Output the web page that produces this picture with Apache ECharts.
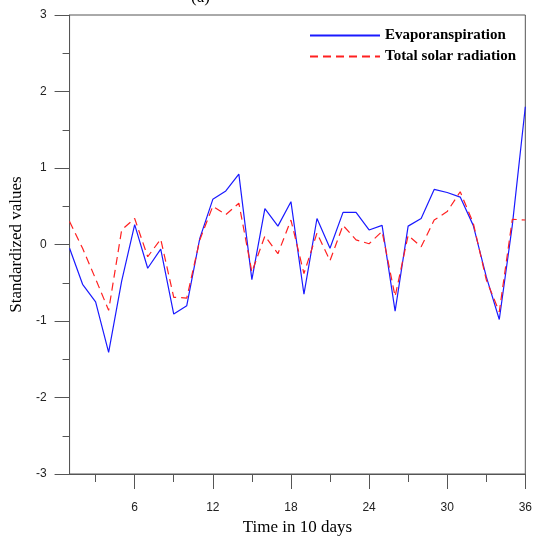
<!DOCTYPE html>
<html>
<head>
<meta charset="utf-8">
<script src="https://cdn.jsdelivr.net/npm/echarts@6/dist/echarts.min.js"></script>
<style>html,body{margin:0;padding:0;background:#fff;overflow:hidden}#c{width:535px;height:541px}</style>
</head>
<body>
<div id="c"></div>
<script>
var days = [1,2,3,4,5,6,7,8,9,10,11,12,13,14,15,16,17,18,19,20,21,22,23,24,25,26,27,28,29,30,31,32,33,34,35,36];
var evapotranspiration = [-0.05,-0.52,-0.75,-1.41,-0.48,0.26,-0.31,-0.06,-0.91,-0.80,0.08,0.59,0.70,0.92,-0.46,0.47,0.24,0.56,-0.65,0.34,-0.05,0.42,0.42,0.19,0.25,-0.87,0.24,0.34,0.72,0.68,0.62,0.25,-0.42,-0.98,0.25,1.80];
var solarRadiation = [0.30,-0.05,-0.45,-0.86,0.19,0.34,-0.16,0.07,-0.69,-0.70,0.06,0.50,0.39,0.54,-0.36,0.11,-0.12,0.32,-0.38,0.15,-0.21,0.25,0.06,0.01,0.17,-0.68,0.12,-0.03,0.32,0.43,0.69,0.28,-0.46,-0.88,0.33,0.32];
var xMajorTicks = [6,12,18,24,30,36];
var xMinorTicks = [3,9,15,21,27,33];
var seriesNames = ['Evaporanspiration','Total solar radiation'];

function pairs(ys){ return days.map(function(d,i){ return [d, ys[i]]; }); }

var axisColor = '#555';
var chart = echarts.init(document.getElementById('c'));
chart.setOption({
  animation: false,
  backgroundColor: '#fff',
  title: {
    text: '(a)',
    left: 186, top: -16,
    textStyle: {fontFamily: 'Liberation Serif', fontSize: 17, fontWeight: 'normal', color: '#000'}
  },
  grid: {left: 69, right: 6, top: 15, bottom: 67, show: true, borderColor: axisColor, borderWidth: 1, backgroundColor: 'transparent'},
  legend: {
    orient: 'vertical', left: 304, top: 23, itemWidth: 70, itemHeight: 14, itemGap: 6,
    itemStyle: {opacity: 0},
    textStyle: {fontFamily: 'Liberation Serif', fontSize: 15, fontWeight: 'bold', color: '#000'},
    data: seriesNames
  },
  xAxis: [{
    type: 'value', min: 1, max: 36,
    name: 'Time in 10 days', nameLocation: 'middle', nameGap: 42,
    nameTextStyle: {fontFamily: 'Liberation Serif', fontSize: 17, color: '#000'},
    axisLine: {show: true, onZero: false, lineStyle: {color: axisColor, width: 1}},
    axisTick: {show: true, inside: false, length: 15, customValues: xMajorTicks, lineStyle: {color: axisColor}},
    axisLabel: {customValues: xMajorTicks, margin: 28, fontFamily: 'Liberation Sans', fontSize: 12, color: '#222'},
    splitLine: {show: false}
  }, {
    type: 'value', min: 1, max: 36, position: 'bottom',
    axisLine: {show: false, onZero: false},
    axisTick: {show: true, inside: false, length: 8, customValues: xMinorTicks, lineStyle: {color: axisColor}},
    axisLabel: {show: false},
    splitLine: {show: false}
  }],
  yAxis: {
    type: 'value', min: -3, max: 3, interval: 1,
    name: 'Standardized values', nameLocation: 'middle', nameGap: 33,
    nameTextStyle: {fontFamily: 'Liberation Serif', fontSize: 17, color: '#000'},
    axisLine: {show: true, onZero: false, lineStyle: {color: axisColor, width: 1}},
    axisTick: {show: true, inside: false, length: 15, lineStyle: {color: axisColor}},
    minorTick: {show: true, splitNumber: 2, length: 7, lineStyle: {color: axisColor}},
    axisLabel: {margin: 23, fontFamily: 'Liberation Sans', fontSize: 12, color: '#222'},
    splitLine: {show: false}
  },
  series: [{
    name: seriesNames[0], type: 'line', data: pairs(evapotranspiration),
    symbol: 'none', showSymbol: false,
    lineStyle: {color: '#1a1aff', width: 1.2, type: 'solid'},
    itemStyle: {color: '#1a1aff'}
  }, {
    name: seriesNames[1], type: 'line', data: pairs(solarRadiation),
    symbol: 'none', showSymbol: false,
    lineStyle: {color: '#ff2020', width: 1.2, type: [8, 5]},
    itemStyle: {color: '#ff2020'}
  }]
});
</script>
</body>
</html>
